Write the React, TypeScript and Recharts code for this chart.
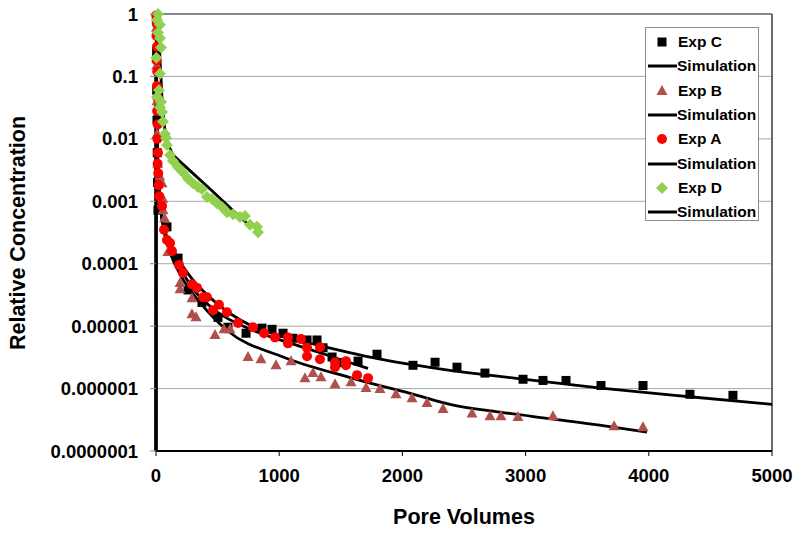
import React from 'react';
import {
  ComposedChart, Scatter, Line, XAxis, YAxis, CartesianGrid, ReferenceLine, Legend,
} from 'recharts';

// ---------- data ----------
const xTicks = [0, 1000, 2000, 3000, 4000, 5000];
const yTicks = [1e-7, 1e-6, 1e-5, 1e-4, 1e-3, 1e-2, 1e-1, 1];
const yTickLabels = ['0.0000001', '0.000001', '0.00001', '0.0001', '0.001', '0.01', '0.1', '1'];

const expC: [number, number][] = [
  [3, 0.85], [5, 0.25], [6, 0.06], [8, 0.02], [10, 0.006], [12, 0.002], [16, 7.2e-4], [89, 3.9e-4],
  [179, 1.23e-4], [260, 3.8e-5], [373, 2.4e-5], [503, 1.38e-5], [584, 9.6e-6], [731, 7.7e-6],
  [860, 9.3e-6], [942, 8.9e-6], [1031, 7.7e-6], [1112, 6.4e-6], [1226, 6.0e-6], [1307, 6.0e-6],
  [1356, 4.5e-6], [1429, 3.2e-6], [1518, 2.6e-6], [1640, 2.75e-6], [1794, 3.55e-6], [2086, 2.36e-6],
  [2265, 2.64e-6], [2443, 2.2e-6], [2670, 1.77e-6], [2979, 1.41e-6], [3141, 1.35e-6], [3328, 1.35e-6],
  [3612, 1.12e-6], [3953, 1.12e-6], [4334, 8.1e-7], [4683, 7.8e-7],
];

const expB: [number, number][] = [
  [4, 0.6], [6, 0.15], [8, 0.04], [10, 0.012], [14, 0.004], [30, 2.5e-3], [49, 1.95e-3], [55, 1.1e-3],
  [57, 7.2e-4], [70, 5.3e-4], [97, 1.54e-4], [195, 4.9e-5], [195, 3.9e-5], [292, 2.8e-5], [292, 1.55e-5],
  [325, 1.39e-5], [479, 7.2e-6], [552, 8.9e-6], [601, 8.9e-6], [747, 3.2e-6], [852, 2.95e-6],
  [974, 2.36e-6], [1096, 2.75e-6], [1209, 1.47e-6], [1274, 1.77e-6], [1339, 1.52e-6], [1453, 1.17e-6],
  [1583, 1.26e-6], [1705, 1.02e-6], [1818, 9.8e-7], [1948, 8.1e-7], [2078, 7.0e-7], [2200, 5.9e-7],
  [2330, 4.7e-7], [2565, 4.0e-7], [2711, 3.6e-7], [2800, 3.6e-7], [2938, 3.5e-7], [3222, 3.6e-7],
  [3718, 2.5e-7], [3953, 2.4e-7],
];

const expA: [number, number][] = [
  [3, 0.95], [6, 0.7], [4, 0.45], [8, 0.3], [5, 0.18], [10, 0.12], [7, 0.07], [12, 0.045], [9, 0.028],
  [14, 0.017], [11, 0.01], [16, 0.006], [13, 0.004], [18, 0.0028], [22, 0.0018], [27, 0.0012],
  [49, 8.4e-4], [65, 3.5e-4], [89, 2.4e-4], [114, 2.14e-4], [130, 1.6e-4], [187, 9.5e-5], [219, 7.1e-5],
  [292, 4.7e-5], [333, 4.1e-5], [382, 2.9e-5], [414, 2.9e-5], [463, 1.8e-5], [511, 2.2e-5], [576, 1.67e-5],
  [666, 1.12e-5], [787, 9.6e-6], [877, 7.7e-6], [966, 6.6e-6], [1071, 6.6e-6], [1071, 5.3e-6],
  [1177, 6.2e-6], [1226, 4.5e-6], [1226, 3.3e-6], [1331, 4.6e-6], [1331, 2.95e-6], [1453, 2.64e-6],
  [1453, 2.2e-6], [1542, 2.75e-6], [1542, 2.36e-6], [1632, 1.64e-6], [1721, 1.47e-6],
];

const expD: [number, number][] = [
  [16, 1.0], [8, 0.8], [32, 0.67], [16, 0.5], [32, 0.41], [41, 0.29], [3, 0.2], [32, 0.11], [24, 0.06],
  [8, 0.047], [41, 0.039], [32, 0.032], [49, 0.027], [57, 0.019], [73, 0.012], [81, 0.0103], [89, 0.008],
  [114, 5.5e-3], [138, 4.4e-3], [179, 3.5e-3], [219, 2.9e-3], [260, 2.3e-3], [300, 1.95e-3],
  [341, 1.7e-3], [373, 1.58e-3], [414, 1.17e-3], [455, 1.09e-3], [495, 9.3e-4], [536, 8.1e-4],
  [576, 6.7e-4], [625, 6.2e-4], [682, 5.6e-4], [722, 5.8e-4], [763, 4.2e-4], [820, 3.9e-4], [828, 3.2e-4],
];

const simC: [number, number][] = [
  [0, 1e-7], [1, 0.3], [3, 0.25], [6, 0.05], [10, 0.01], [15, 0.004], [25, 0.0015], [40, 7e-4],
  [70, 3.5e-4], [120, 2e-4], [170, 1.28e-4], [300, 5.5e-5], [495, 2.3e-5], [763, 1.04e-5],
  [1031, 6.8e-6], [1307, 5.0e-6], [1843, 2.9e-6], [2386, 1.96e-6], [2979, 1.42e-6], [3612, 1.02e-6],
  [4334, 7.4e-7], [5000, 5.6e-7],
];

const simB: [number, number][] = [
  [0, 1e-7], [1, 0.3], [3, 0.25], [6, 0.05], [10, 0.01], [15, 0.004], [25, 0.0015], [40, 7e-4],
  [70, 3e-4], [120, 1.4e-4], [200, 6.5e-5], [357, 2.4e-5], [576, 8.6e-6], [1031, 3.2e-6],
  [1575, 1.5e-6], [2119, 7.8e-7], [2386, 5.6e-7], [2792, 4.2e-7], [3198, 3.3e-7], [3600, 2.6e-7],
  [3985, 2.0e-7],
];

const simA: [number, number][] = [
  [0, 1e-7], [1, 0.3], [3, 0.25], [6, 0.05], [10, 0.01], [15, 0.004], [25, 0.0015], [40, 7e-4],
  [70, 3.3e-4], [120, 1.7e-4], [170, 1.05e-4], [300, 4.0e-5], [495, 1.7e-5], [763, 9e-6],
  [1031, 5.8e-6], [1307, 3.9e-6], [1500, 2.9e-6], [1721, 2.1e-6],
];

const simD: [number, number][] = [
  [0, 1e-7], [2, 0.6], [8, 0.9], [20, 0.5], [35, 0.15], [50, 0.04], [70, 0.015], [100, 8e-3],
  [138, 5.5e-3], [300, 2.8e-3], [450, 1.5e-3], [617, 7.4e-4], [760, 4.1e-4],
];

const seriesNames = ['Exp C', 'Simulation', 'Exp B', 'Simulation', 'Exp A', 'Simulation', 'Exp D', 'Simulation'];

// ---------- styles ----------
const FONT = '"Liberation Sans", Arial, sans-serif';
const C_BLACK = '#000000';
const C_BROWN = '#B0504C';
const C_RED = '#FF0000';
const C_GREEN = '#92D050';

const toPts = (arr: [number, number][]) => arr.map(([x, y]) => ({ x, y }));

type ShapeKind = 'square' | 'triangle' | 'circle' | 'diamond';

const drawMarker = (kind: ShapeKind, cx: number, cy: number, color: string) => {
  switch (kind) {
    case 'square':
      return <rect x={cx - 4.5} y={cy - 4.5} width={9} height={9} fill={color} />;
    case 'triangle':
      return <polygon points={`${cx},${cy - 6} ${cx + 5.5},${cy + 4} ${cx - 5.5},${cy + 4}`} fill={color} />;
    case 'circle':
      return <circle cx={cx} cy={cy} r={5} fill={color} />;
    default:
      return <polygon points={`${cx},${cy - 6} ${cx + 6},${cy} ${cx},${cy + 6} ${cx - 6},${cy}`} fill={color} />;
  }
};

const markerShape = (kind: ShapeKind, color: string) => (props: any) => {
  const { cx, cy } = props;
  if (cx == null || cy == null) return <g />;
  return drawMarker(kind, cx, cy, color);
};

const legendRows: { kind: ShapeKind | 'line'; color: string }[] = [
  { kind: 'square', color: C_BLACK },
  { kind: 'line', color: C_BLACK },
  { kind: 'triangle', color: C_BROWN },
  { kind: 'line', color: C_BLACK },
  { kind: 'circle', color: C_RED },
  { kind: 'line', color: C_BLACK },
  { kind: 'diamond', color: C_GREEN },
  { kind: 'line', color: C_BLACK },
];

const LegendBox = () => (
  <div
    style={{
      width: 114, height: 194, border: '1px solid #8c8c8c', background: '#fff',
      boxSizing: 'border-box', paddingTop: 2, fontFamily: FONT,
    }}
  >
    {legendRows.map((r, i) => (
      <div key={i} style={{ display: 'flex', alignItems: 'center', height: 24.3 }}>
        <svg width={31} height={14} style={{ display: 'block' }}>
          {r.kind === 'line' ? (
            <line x1={2} y1={7} x2={31} y2={7} stroke={r.color} strokeWidth={3} />
          ) : (
            drawMarker(r.kind as ShapeKind, 16, 7, r.color)
          )}
        </svg>
        <span style={{ fontSize: 15.5, fontWeight: 'bold', color: '#000', whiteSpace: 'nowrap', marginLeft: r.kind === 'line' ? 0 : 1 }}>
          {seriesNames[i]}
        </span>
      </div>
    ))}
  </div>
);

const fmtY = (v: number) => {
  const idx = yTicks.findIndex((t) => Math.abs(Math.log10(t) - Math.log10(v)) < 1e-6);
  return idx >= 0 ? yTickLabels[idx] : String(v);
};

const tickStyle = { fontFamily: FONT, fontSize: 18.5, fontWeight: 'bold', fill: '#000' };

export default function App() {
  return (
    <div style={{ position: 'absolute', left: 0, top: 0, width: 800, height: 533, background: '#fff' }}>
      <ComposedChart width={800} height={533} margin={{ top: 14, right: 28, bottom: 22, left: 56 }}>
        <CartesianGrid vertical={false} stroke="#a8a8a8" strokeWidth={1} />
        <XAxis
          type="number"
          dataKey="x"
          domain={[0, 5000]}
          ticks={xTicks}
          height={60}
          axisLine={{ stroke: '#000', strokeWidth: 2 }}
          tickLine={{ stroke: '#000' }}
          tickSize={5}
          tickMargin={13}
          tick={tickStyle}
          interval={0}
          label={{
            content: () => (
              <text x={464} y={524} textAnchor="middle" fontFamily={FONT} fontSize={21.5} fontWeight="bold" fill="#000">
                Pore Volumes
              </text>
            ),
          }}
        />
        <YAxis
          type="number"
          dataKey="y"
          scale="log"
          domain={[1e-7, 1]}
          ticks={yTicks}
          width={100}
          axisLine={{ stroke: '#000', strokeWidth: 2 }}
          tickLine={{ stroke: '#8a8a8a' }}
          tickSize={6}
          tickMargin={12}
          tick={tickStyle}
          tickFormatter={fmtY}
          interval={0}
          label={{
            content: () => (
              <text
                x={25}
                y={233}
                transform="rotate(-90 25 233)"
                textAnchor="middle"
                fontFamily={FONT}
                fontSize={21.5}
                fontWeight="bold"
                fill="#000"
              >
                Relative Concentration
              </text>
            ),
          }}
        />
        <ReferenceLine y={1} stroke="#3a3a3a" strokeWidth={1.2} />
        <ReferenceLine x={5000} stroke="#6a6a6a" strokeWidth={2} />

        <Scatter name="Exp C" data={toPts(expC)} dataKey="y" shape={markerShape('square', C_BLACK)} isAnimationActive={false} />
        <Line name="Simulation C" data={toPts(simC)} dataKey="y" type="monotone" stroke="#000" strokeWidth={2.8} dot={false} activeDot={false} isAnimationActive={false} />
        <Scatter name="Exp B" data={toPts(expB)} dataKey="y" shape={markerShape('triangle', C_BROWN)} isAnimationActive={false} />
        <Line name="Simulation B" data={toPts(simB)} dataKey="y" type="monotone" stroke="#000" strokeWidth={2.8} dot={false} activeDot={false} isAnimationActive={false} />
        <Scatter name="Exp A" data={toPts(expA)} dataKey="y" shape={markerShape('circle', C_RED)} isAnimationActive={false} />
        <Line name="Simulation A" data={toPts(simA)} dataKey="y" type="monotone" stroke="#000" strokeWidth={2.8} dot={false} activeDot={false} isAnimationActive={false} />
        <Scatter name="Exp D" data={toPts(expD)} dataKey="y" shape={markerShape('diamond', C_GREEN)} isAnimationActive={false} />
        <Line name="Simulation D" data={toPts(simD)} dataKey="y" type="linear" stroke="#000" strokeWidth={2.8} dot={false} activeDot={false} isAnimationActive={false} />

        <Legend
          layout="horizontal"
          verticalAlign="middle"
          align="center"
          content={() => <LegendBox />}
          wrapperStyle={{ position: 'absolute', left: 645, top: 27, width: 114, height: 194, margin: 0 }}
        />
      </ComposedChart>
    </div>
  );
}
